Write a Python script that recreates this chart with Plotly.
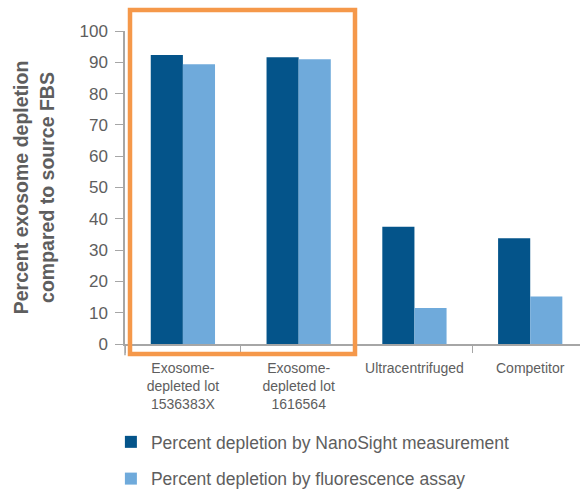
import plotly.graph_objects as go

categories = ["Exosome-<br>depleted lot<br>1536383X", "Exosome-<br>depleted lot<br>1616564",
              "Ultracentrifuged", "Competitor"]
nanosight = [92.3, 91.6, 37.5, 33.8]
fluorescence = [89.4, 91.0, 11.5, 15.2]
series_names = ["Percent depletion by NanoSight measurement",
                "Percent depletion by fluorescence assay"]
y_ticks = [0, 10, 20, 30, 40, 50, 60, 70, 80, 90, 100]

DARK = "#04548A"
LIGHT = "#6FAADB"
TEXT = "#5E5E5E"
AXIS = "#A6A6A6"
FONT = "Liberation Sans, Arial, sans-serif"

fig = go.Figure()
fig.add_trace(go.Bar(x=categories, y=nanosight, name=series_names[0],
                     marker=dict(color=DARK, line=dict(width=0)), legendgroup="a"))
fig.add_trace(go.Bar(x=categories, y=fluorescence, name=series_names[1],
                     marker=dict(color=LIGHT, line=dict(width=0)), legendgroup="b"))

fig.update_layout(
    width=580, height=491,
    margin=dict(l=125, r=0, t=31, b=147),
    plot_bgcolor="white", paper_bgcolor="white",
    barmode="group", bargap=0.445, bargroupgap=0,
    font=dict(family=FONT, color=TEXT),
    showlegend=True,
    legend=dict(x=-0.031, xanchor="left", yref="container", y=0.1365, yanchor="top",
                font=dict(size=17.5, color=TEXT), tracegroupgap=11,
                bgcolor="rgba(0,0,0,0)"),
    xaxis=dict(range=[-0.5, 3.43], showline=True, linecolor=AXIS, linewidth=1.5,
               ticks="outside", tickson="boundaries", ticklen=7, tickcolor=AXIS,
               tickfont=dict(size=14, color=TEXT), ticklabelstandoff=10,
               showgrid=False, zeroline=False, fixedrange=True, automargin=False),
    yaxis=dict(range=[0, 100], tickvals=y_ticks, showline=True, linecolor=AXIS,
               linewidth=1.5, ticks="outside", ticklen=8, tickcolor=AXIS,
               tickfont=dict(size=17, color=TEXT), ticklabelstandoff=4,
               showgrid=False, zeroline=False,
               title=dict(text="Percent exosome depletion<br>compared to source FBS",
                          font=dict(size=19.5, color=TEXT, family=FONT, weight="bold"),
                          standoff=20),
               automargin=False),
)

# y-axis line continues slightly below the baseline
fig.add_shape(type="line", xref="paper", yref="paper", x0=0, x1=0, y0=0, y1=-0.036,
              line=dict(color=AXIS, width=1.5))

# highlight box around the two exosome-depleted lots
fig.add_shape(type="rect", xref="paper", yref="paper",
              x0=(130 - 125) / 455, x1=(355 - 125) / 455,
              y0=-(354 - 344) / 313, y1=(344 - 10) / 313,
              line=dict(color="#F5984A", width=4.5), layer="above")

fig.write_html("out.html")
